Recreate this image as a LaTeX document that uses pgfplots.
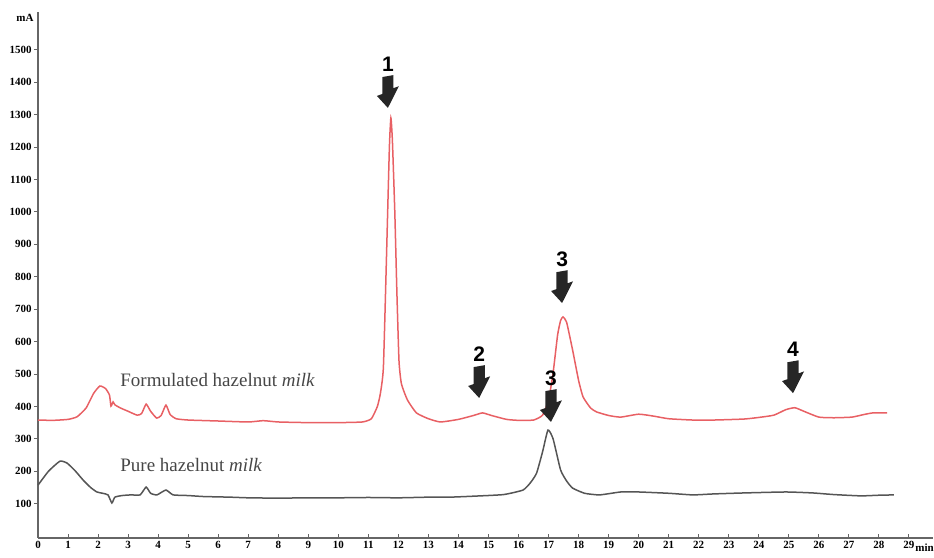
\documentclass[border=0pt]{standalone}
\usepackage{fontspec}
\setmainfont{Liberation Serif}
\newfontfamily\arrowfont{Liberation Sans}
\usepackage{pgfplots}
\pgfplotsset{compat=1.18}

\definecolor{formred}{RGB}{232,96,100}
\definecolor{puregray}{RGB}{85,85,85}
\definecolor{labelgray}{RGB}{70,70,70}

% down arrow with its peak number; tip at (x,y)
\newcommand{\peakarrow}[3]{%
  \fill[black!85] (axis cs:#1,#2) -- ++(-5.5bp,6bp) -- ++(2.7bp,0) -- ++(0,7.5bp)
     -- ++(5.6bp,0) -- ++(0,-7.5bp) -- ++(2.7bp,0) -- cycle;
  \node[font=\arrowfont\bfseries\fontsize{10.5bp}{12bp}\selectfont, inner sep=0pt]
     at ([yshift=22bp]axis cs:#1,#2) {#3};
}

\begin{document}
\begin{tikzpicture}
\begin{axis}[
    scale only axis,
    width=447.5bp,
    height=263bp,
    xmin=0, xmax=29.8,
    ymin=-6, ymax=1617,
    axis lines*=left,
    axis line style={black!60, line width=0.8bp},
    xtick={0,1,...,29},
    ytick={100,200,...,1500},
    major tick length=2bp,
    tick style={black!60, line width=0.5bp},
    xtick align=inside,
    ytick align=outside,
    tick label style={font=\bfseries\fontsize{5.5bp}{6bp}\selectfont},
    /pgf/number format/assume math mode=true,
    /pgf/number format/1000 sep={},
    xticklabel style={inner sep=1.5bp},
    yticklabel style={inner sep=1bp},
    clip=false,
]
% Formulated hazelnut milk
\addplot[formred, line width=0.75bp, smooth, tension=0.3] coordinates {
(0,358) (0.5,357) (1.0,360) (1.3,368) (1.6,395) (1.85,440) (2.06,463)
(2.25,455) (2.38,435) (2.43,401) (2.5,414) (2.56,405) (2.75,395) (3.0,385)
(3.3,373) (3.45,378) (3.6,407) (3.75,385) (3.95,364) (4.1,372) (4.26,404)
(4.4,375) (4.6,362) (5.0,358) (6.0,355) (7.0,352) (7.5,356) (8.0,352)
(9.0,350) (10.0,350) (10.8,352) (11.1,362) (11.3,400) (11.4,440) (11.5,520)
(11.6,850) (11.7,1200) (11.75,1290) (11.8,1220) (11.88,1000) (11.95,750)
(12.02,540) (12.1,470) (12.3,420) (12.6,380) (13.0,362) (13.4,352) (14.0,360)
(14.5,372) (14.8,380) (15.1,372) (15.6,360) (16.0,357) (16.5,358) (16.8,373)
(17.0,420) (17.15,503) (17.3,620) (17.4,665) (17.48,676) (17.6,660) (17.8,574)
(18.0,480) (18.15,429) (18.4,395) (18.6,383) (19.0,372) (19.4,367) (20.0,376)
(20.5,370) (21.0,362) (21.8,358) (22.5,358) (23.5,361) (24.0,366) (24.5,373)
(24.9,390) (25.2,396) (25.5,385) (26.0,367) (26.5,365) (27.1,367) (27.5,375)
(27.8,380) (28.27,380)
};
% Pure hazelnut milk
\addplot[puregray, line width=0.75bp, smooth, tension=0.3] coordinates {
(0,157) (0.35,200) (0.73,231) (0.97,225) (1.25,200) (1.5,173) (1.75,150)
(1.96,136) (2.15,132) (2.33,127) (2.46,102) (2.56,120) (2.8,125) (3.1,127)
(3.4,127) (3.6,151) (3.75,132) (3.96,127) (4.26,142) (4.5,127) (5.0,125)
(5.5,122) (6.4,120) (7.0,118) (8.0,117) (9.0,118) (10.0,118) (11.0,119)
(12.0,118) (13.0,120) (13.7,120) (14.5,123) (15.5,128) (16.15,142) (16.4,165)
(16.6,194) (16.8,260) (16.98,327) (17.15,300) (17.4,204) (17.6,170) (17.8,148)
(18.2,132) (18.7,127) (19.4,136) (20.0,136) (21.0,132) (21.8,127) (22.5,130)
(23.5,133) (24.9,136) (25.8,133) (26.5,128) (27.4,124) (28.0,126) (28.5,127)
};

\node[anchor=base west, text=labelgray, inner sep=0pt,
      font=\fontsize{9.5bp}{11bp}\selectfont]
   at (axis cs:2.73,460) {Formulated hazelnut \textit{milk}};
\node[anchor=base west, text=labelgray, inner sep=0pt,
      font=\fontsize{9.5bp}{11bp}\selectfont]
   at (axis cs:2.73,198) {Pure hazelnut \textit{milk}};

\peakarrow{11.65}{1321}{1}
\peakarrow{14.69}{426}{2}
\peakarrow{17.45}{719}{3}
\peakarrow{17.08}{352}{3}
\peakarrow{25.14}{441}{4}

\node[anchor=east, inner sep=0pt, font=\bfseries\fontsize{5.5bp}{6bp}\selectfont]
   at ([xshift=-2bp]axis cs:0,1600) {mA};
\node[anchor=west, inner sep=0pt, font=\bfseries\fontsize{5.5bp}{6bp}\selectfont]
   at ([yshift=-5bp]axis cs:29.2,-6) {min};
\end{axis}
\pgfresetboundingbox
\path[use as bounding box] (-19bp,-10bp) rectangle (448bp,269bp);
\end{tikzpicture}
\end{document}
